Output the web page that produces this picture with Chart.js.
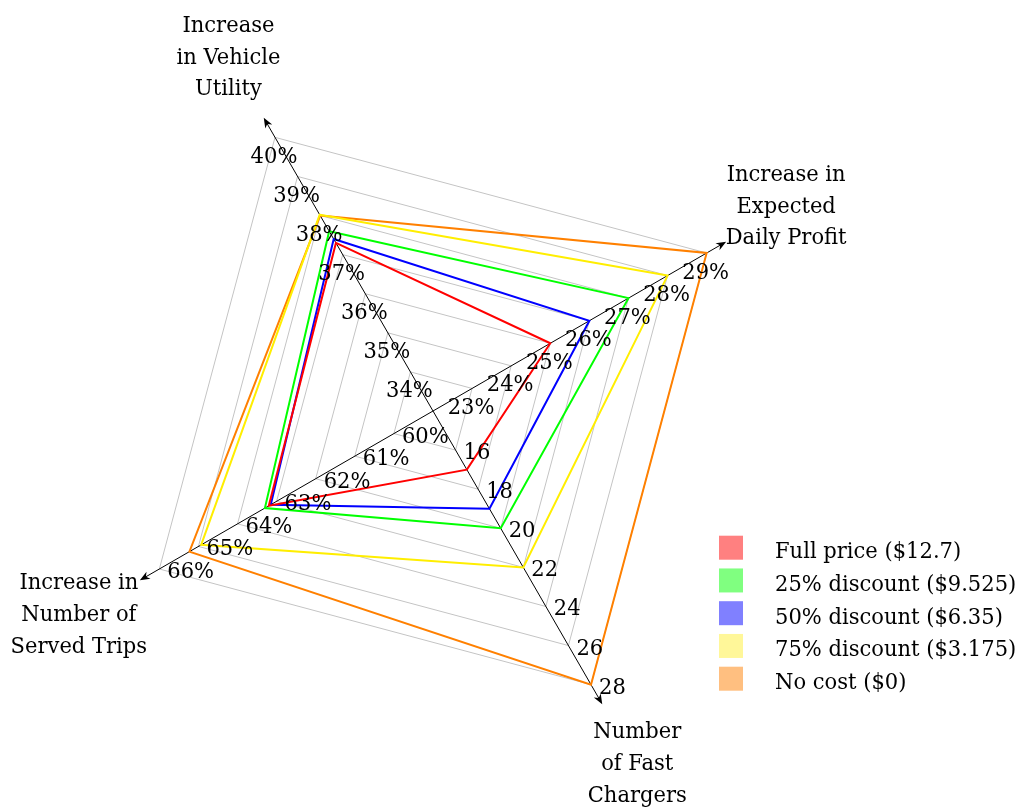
<!DOCTYPE html>
<html><head><meta charset="utf-8">
<script src="https://cdn.jsdelivr.net/npm/chart.js@4.4.0/dist/chart.umd.min.js"></script>
<style>html,body{margin:0;padding:0;background:#fff}#wrap{width:1018px;height:808px;position:relative}</style>
</head><body><div id="wrap"><canvas id="c" width="1018" height="808"></canvas></div>
<script>
// ---- data ----
const axisTitles = [['Increase','in Vehicle','Utility'], ['Increase in','Expected','Daily Profit'], ['Number','of Fast','Chargers'], ['Increase in','Number of','Served Trips']];
const axisBase = [33, 22, 14, 59];
const axisStep = [1, 1, 2, 1];
const vehicleTicks = ['34%','35%','36%','37%','38%','39%','40%'];
const profitTicks = ['23%','24%','25%','26%','27%','28%','29%'];
const chargerTicks = ['16','18','20','22','24','26','28'];
const tripTicks = ['60%','61%','62%','63%','64%','65%','66%'];
const seriesNames = ['Full price ($12.7)', '25% discount ($9.525)', '50% discount ($6.35)', '75% discount ($3.175)', 'No cost ($0)'];
const fullPrice  = [37.3, 25, 17, 63.2];
const discount25 = [37.6, 27, 20, 63.3];
const discount50 = [37.4, 26, 19, 63.15];
const discount75 = [38.02, 28, 22, 64.93];
const noCost     = [38.0, 29, 28, 65.23];

// ---- styles ----
const lineColors = ['#ff0000', '#00ff00', '#0000ff', '#ffee00', '#ff8000'];
const swatchColors = ['#ff8080', '#80ff80', '#8080ff', '#fff799', '#ffbf80'];
const FONT = '23px "DejaVu Serif"';
const XSCALE = 0.915;

const allSeries = [fullPrice, discount25, discount50, discount75, noCost];
const norm = (arr) => arr.map((v, i) => (v - axisBase[i]) / axisStep[i]);
const tickSets = [vehicleTicks, profitTicks, chargerTicks, tripTicks];

function txt(ctx, t, x, y, align) {
  ctx.save();
  ctx.translate(x, y);
  ctx.scale(XSCALE, 1);
  ctx.textAlign = align;
  ctx.textBaseline = 'alphabetic';
  ctx.fillText(t, 0, 0);
  ctx.restore();
}

const decor = {
  id: 'decor',
  beforeDatasetsDraw(chart) {
    const s = chart.scales.r, ctx = chart.ctx;
    const c = {x: s.xCenter, y: s.yCenter};
    ctx.save();
    ctx.strokeStyle = '#000'; ctx.fillStyle = '#000'; ctx.lineWidth = 1;
    for (let i = 0; i < 4; i++) {
      const tip = s.getPointPosition(i, 338.5);
      const ang = Math.atan2(tip.y - c.y, tip.x - c.x);
      ctx.beginPath(); ctx.moveTo(c.x, c.y);
      ctx.lineTo(tip.x - 4 * Math.cos(ang), tip.y - 4 * Math.sin(ang)); ctx.stroke();
      ctx.save(); ctx.translate(tip.x, tip.y); ctx.rotate(ang);
      ctx.beginPath(); ctx.moveTo(0, 0); ctx.lineTo(-10, -4); ctx.lineTo(-7, 0); ctx.lineTo(-10, 4); ctx.closePath(); ctx.fill();
      ctx.restore();
    }
    ctx.restore();
  },
  afterDatasetsDraw(chart) {
    const s = chart.scales.r, ctx = chart.ctx;
    ctx.save();
    ctx.font = FONT; ctx.fillStyle = '#000';
    // tick labels per axis
    for (let i = 0; i < 4; i++) {
      tickSets[i].forEach((t, k) => {
        const p = s.getPointPositionForValue(i, k + 1);
        if (i < 2) txt(ctx, t, p.x - 1, p.y + 25.5, 'center');
        else txt(ctx, t, p.x + 8, p.y + 9, 'left');
      });
    }
    // axis titles
    const offs = [[-35.3, -86], [60, -60.7], [35, 34.3], [-61, 9]];
    for (let i = 0; i < 4; i++) {
      const tip = s.getPointPosition(i, 338.5);
      axisTitles[i].forEach((line, j) => {
        txt(ctx, line, tip.x + offs[i][0], tip.y + offs[i][1] + j * 31.7, 'center');
      });
    }
    // legend
    chart.data.datasets.forEach((ds, j) => {
      const top = 535.7 + j * 32.75;
      ctx.fillStyle = swatchColors[j];
      ctx.fillRect(719, top, 24, 24);
      ctx.fillStyle = '#000';
      txt(ctx, ds.label, 775, top + 22.5, 'left');
    });
    ctx.restore();
  }
};

new Chart(document.getElementById('c'), {
  type: 'radar',
  data: {
    labels: axisTitles.map(t => t.join(' ')),
    datasets: allSeries.map((arr, j) => ({
      label: seriesNames[j],
      data: norm(arr),
      borderColor: lineColors[j],
      backgroundColor: 'rgba(0,0,0,0)',
      fill: false,
      borderWidth: 2,
      pointRadius: 0,
      tension: 0
    }))
  },
  options: {
    responsive: false,
    animation: false,
    devicePixelRatio: 1,
    layout: {padding: {left: 117, right: 269, top: 95, bottom: 81}},
    plugins: {legend: {display: false}, tooltip: {enabled: false}},
    scales: {
      r: {
        min: 0, max: 7, startAngle: -30,
        ticks: {display: false, stepSize: 1},
        grid: {color: '#c4c4c4', lineWidth: 1, circular: false},
        angleLines: {display: false},
        pointLabels: {display: false}
      }
    }
  },
  plugins: [decor]
});
</script>
</body></html>
